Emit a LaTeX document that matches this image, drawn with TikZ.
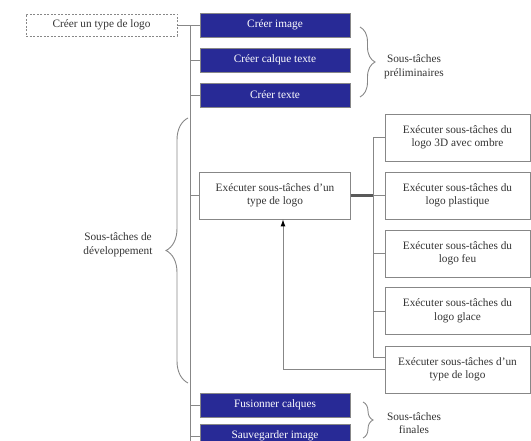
\documentclass[tikz,border=0pt]{standalone}
\usepackage{fontspec}
\setmainfont{Liberation Serif}
\usetikzlibrary{decorations.pathreplacing,arrows.meta}
\definecolor{bleulogo}{RGB}{40,42,150}
\definecolor{gristrait}{RGB}{135,135,135}
\begin{document}
\begin{tikzpicture}[x=1pt,y=-1pt]
\tikzset{tache/.style={draw=gristrait, line width=0.9pt, minimum width=150pt, minimum height=24pt, inner sep=1pt, font=\fontsize{11.3}{13.5}\selectfont},
bleu/.style={tache, fill=bleulogo, text=white},
blanc/.style={tache, align=center, minimum height=47pt, text=black!80},
pointille/.style={tache, dash pattern=on 2pt off 1.5pt, minimum width=151pt, minimum height=22pt, text=black!80},
trait/.style={draw=gristrait, line width=0.9pt},
accolade/.style={trait, decorate, decoration={brace, amplitude=#1}},
legende/.style={align=center, text=black!80, font=\fontsize{11.3}{13.5}\selectfont}}
\clip (0,0) rectangle (531,441);
% colonne de gauche
\node[pointille] (V0) at (101.5,25) {Créer un type de logo};
\node[bleu] (V1) at (275,25) {Créer image};
\node[bleu] (V2) at (275,60) {Créer calque texte};
\node[bleu] (V3) at (275,95) {Créer texte};
\node[blanc, minimum width=151pt] (V4) at (275,195.5) {Exécuter sous-tâches d’un\\type de logo};
\node[bleu] (V5) at (275,405) {Fusionner calques};
\node[bleu] (V6) at (275,436) {Sauvegarder image};
% colonne de droite
\node[blanc, minimum width=145pt] (W1) at (457.5,137.5) {Exécuter sous-tâches du\\logo 3D avec ombre};
\node[blanc, minimum width=145pt] (W2) at (457.5,195.5) {Exécuter sous-tâches du\\logo plastique};
\node[blanc, minimum width=145pt] (W3) at (457.5,253.5) {Exécuter sous-tâches du\\logo feu};
\node[blanc, minimum width=145pt] (W4) at (457.5,311) {Exécuter sous-tâches du\\logo glace};
\node[blanc, minimum width=145pt] (W5) at (457.5,369.5) {Exécuter sous-tâches d’un\\type de logo};
% legendes
\node[legende] (L1) at (414,67) {Sous-tâches\\préliminaires};
\node[legende] (L2) at (118,245) {Sous-tâches de\\développement};
\node[legende] (L3) at (414,423) {Sous-tâches\\finales};
% traits
\coordinate (T0) at (190,25);
\coordinate (T1) at (190,441);
\draw[trait] (V0.east) -- (T0) -- (T1);
\foreach \n in {V1,V2,V3,V4,V5,V6}
  \draw[trait] (\n.west) -- (\n.west -| T0);
\coordinate (S0) at (373,137.5);
\coordinate (S1) at (373,357);
\draw[trait] (S0) -- (S1) -- (S1 -| W5.west);
\foreach \n in {W1,W2,W3,W4}
  \draw[trait] (\n.west) -- (\n.west -| S0);
\draw[line width=2.2pt, draw=black!65] (V4.east) -- (V4.east -| S0);
\coordinate (F) at (283,369.5);
\draw[trait, -{Latex[color=black, length=7pt, width=5pt]}] (W5.west) -- (F) -- (F |- V4.south);
% accolades
\draw[accolade=15pt] (360,27) -- (360,97);
\draw[accolade=22pt] (188,383) -- (188,118);
\draw[accolade=10pt] (363,402) -- (363,438);
\end{tikzpicture}
\end{document}
